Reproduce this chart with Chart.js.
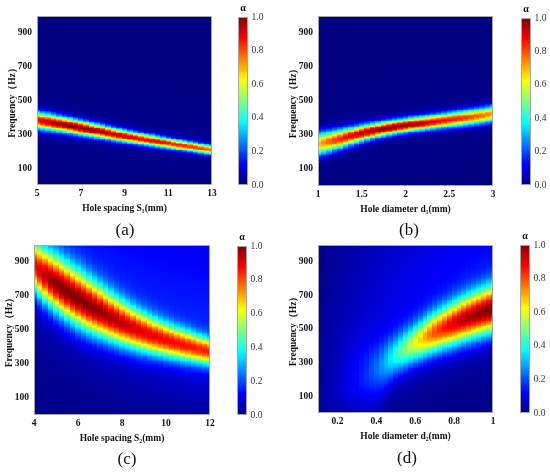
<!DOCTYPE html>
<html>
<head>
<meta charset="utf-8">
<script src="https://cdn.jsdelivr.net/npm/chart.js@4.4.1/dist/chart.umd.min.js"></script>
<style>
    html, body { margin: 0; padding: 0; background: #fff; }
    #figura { position: relative; width: 550px; height: 473px; overflow: hidden; background: #fff; }
    #figura canvas { position: absolute; }
    .etiqueta {
        position: absolute;
        font: 17px "Liberation Serif", "Times New Roman", serif;
        color: #111;
        transform: translate(-50%, -50%);
        white-space: nowrap;
    }
</style>
</head>
<body>
<div id="figura"></div>
<script>
// =========================================================================
// DATOS
// Para cada columna: frecuencia del pico, alpha maximo y ancho de banda (Hz)
// =========================================================================
const freqTicks = [100, 300, 500, 700, 900];
const colorbarTicks = [0, 0.2, 0.4, 0.6, 0.8, 1.0];

// (a) Hole spacing S1
const spacingS1 = [5, 5.25, 5.5, 5.75, 6, 6.25, 6.5, 6.75, 7, 7.25, 7.5, 7.75, 8, 8.25, 8.5, 8.75, 9,
                   9.25, 9.5, 9.75, 10, 10.25, 10.5, 10.75, 11, 11.25, 11.5, 11.75, 12, 12.25, 12.5, 12.75, 13];
const ticksS1 = [5, 7, 9, 11, 13];
const centerA = [382, 377, 372, 367, 362, 356, 350, 344, 338, 332, 326, 320, 314, 307, 301, 295, 289,
                 283, 278, 272, 267, 262, 257, 252, 247, 242, 237, 232, 227, 222, 217, 212, 208];
const peakA = [0.90, 0.92, 0.94, 0.96, 0.97, 0.98, 0.99, 1.00, 1.00, 1.00, 0.99, 0.98, 0.97, 0.955, 0.94, 0.93, 0.92,
               0.91, 0.90, 0.895, 0.89, 0.885, 0.88, 0.875, 0.87, 0.86, 0.85, 0.84, 0.83, 0.82, 0.81, 0.80, 0.79];
const widthA = [34, 33, 33, 32, 31, 30.5, 30, 29, 28.5, 28, 27, 26.5, 26, 25.5, 25, 24.5, 24,
                23.5, 23, 22.5, 22, 22, 21.5, 21, 20.5, 20, 20, 19.5, 19, 19, 18.5, 18.5, 18];
const glowA = 0.04;

// (b) Hole diameter d1
const diameterD1 = [1, 1.0625, 1.125, 1.1875, 1.25, 1.3125, 1.375, 1.4375, 1.5, 1.5625, 1.625, 1.6875, 1.75, 1.8125, 1.875, 1.9375, 2,
                    2.0625, 2.125, 2.1875, 2.25, 2.3125, 2.375, 2.4375, 2.5, 2.5625, 2.625, 2.6875, 2.75, 2.8125, 2.875, 2.9375, 3];
const ticksD1 = [1, 1.5, 2, 2.5, 3];
const centerB = [247, 254, 261, 269, 277, 286, 294, 302, 310, 317, 324, 330, 336, 342, 347, 352, 356,
                 361, 365, 369, 373, 377, 381, 385, 389, 393, 397, 401, 405, 410, 414, 419, 424];
const peakB = [0.70, 0.74, 0.78, 0.82, 0.85, 0.88, 0.90, 0.92, 0.94, 0.955, 0.97, 0.98, 0.99, 0.995, 1.00, 0.99, 0.98,
               0.965, 0.95, 0.935, 0.92, 0.905, 0.89, 0.875, 0.86, 0.845, 0.83, 0.815, 0.80, 0.785, 0.77, 0.755, 0.74];
const widthB = [46, 44, 42, 40, 38, 36, 34.5, 33, 32, 31, 30, 29, 28.5, 28, 27.5, 27, 27,
                27, 27, 27.5, 27.5, 28, 28, 28.5, 29, 29.5, 30, 30, 30.5, 31, 31, 31.5, 32];
const glowB = 0.04;

// (c) Hole spacing S2
const spacingS2 = [4, 4.25, 4.5, 4.75, 5, 5.25, 5.5, 5.75, 6, 6.25, 6.5, 6.75, 7, 7.25, 7.5, 7.75, 8,
                   8.25, 8.5, 8.75, 9, 9.25, 9.5, 9.75, 10, 10.25, 10.5, 10.75, 11, 11.25, 11.5, 11.75, 12];
const ticksS2 = [4, 6, 8, 10, 12];
const centerC = [874, 847, 822, 796, 772, 749, 727, 705, 684, 664, 645, 626, 608, 591, 574, 557, 540,
                 526, 512, 498, 485, 473, 462, 451, 440, 431, 422, 413, 405, 396, 388, 380, 372];
const peakC = [0.88, 0.91, 0.94, 0.97, 0.99, 1.00, 1.00, 1.00, 1.00, 1.00, 1.00, 0.99, 0.98, 0.97, 0.96, 0.95, 0.94,
               0.93, 0.92, 0.91, 0.90, 0.90, 0.89, 0.89, 0.88, 0.88, 0.87, 0.87, 0.86, 0.86, 0.85, 0.85, 0.84];
const widthC = [100, 103, 106, 108, 110, 110, 110, 110, 110, 108, 105, 103, 100, 97, 94, 91, 88,
                85, 82, 80, 77, 74, 72, 69, 67, 65, 63, 62, 60, 58, 56, 55, 53];
const glowC = 0.16;

// (d) Hole diameter d2
const diameterD2 = [0.1, 0.125, 0.15, 0.175, 0.2, 0.225, 0.25, 0.275, 0.3, 0.325, 0.35, 0.375, 0.4, 0.425, 0.45, 0.475, 0.5, 0.525, 0.55,
                    0.575, 0.6, 0.625, 0.65, 0.675, 0.7, 0.725, 0.75, 0.775, 0.8, 0.825, 0.85, 0.875, 0.9, 0.925, 0.95, 0.975, 1.0];
const ticksD2 = [0.2, 0.4, 0.6, 0.8, 1];
const centerD = [100, 108, 118, 128, 140, 152, 165, 180, 195, 212, 230, 249, 268, 287, 306, 326, 345, 364, 382,
                 400, 418, 434, 450, 465, 480, 494, 507, 520, 533, 545, 556, 568, 579, 590, 601, 611, 622];
const peakD = [0.03, 0.035, 0.045, 0.055, 0.07, 0.085, 0.10, 0.115, 0.13, 0.15, 0.17, 0.20, 0.23, 0.27, 0.31, 0.36, 0.41, 0.46, 0.51,
               0.56, 0.61, 0.66, 0.71, 0.76, 0.80, 0.83, 0.86, 0.89, 0.91, 0.93, 0.945, 0.96, 0.97, 0.98, 0.99, 1.00, 1.00];
const glowD = [0.02, 0.027, 0.035, 0.042, 0.05, 0.058, 0.065, 0.072, 0.08, 0.085, 0.09, 0.095, 0.10, 0.104, 0.108, 0.111, 0.115, 0.118, 0.12,
               0.122, 0.125, 0.128, 0.13, 0.132, 0.135, 0.136, 0.137, 0.138, 0.14, 0.141, 0.142, 0.144, 0.145, 0.146, 0.147, 0.148, 0.15];
const widthUpD = [220, 215, 210, 205, 200, 190, 180, 170, 160, 145, 130, 115, 100, 94, 88, 84, 80, 79, 79,
                  78, 78, 79, 80, 81, 82, 83, 85, 86, 88, 89, 90, 91, 92, 93, 94, 95, 95];
const widthDownD = [250, 248, 245, 243, 240, 233, 225, 218, 210, 195, 180, 165, 150, 130, 112, 97, 85, 83, 81,
                    80, 80, 81, 82, 83, 84, 85, 86, 88, 89, 90, 91, 92, 93, 94, 95, 96, 96];

// =========================================================================
// CONFIGURACION DE PANELES
// =========================================================================
const SERIF = '"Liberation Serif", "Times New Roman", serif';
const TEXT_COLOR = '#111';
const FRAME_COLOR = '#a6a6a6';
const FREQ_STEP = 5;

const paneles = [
    {
        label: '(a)', labelPos: { x: 125, y: 230 },
        xs: spacingS1, xMin: 5, xMax: 13, xTicks: ticksS1, xTitle: 'Hole spacing S\u2081(mm)',
        center: centerA, peak: peakA, wUp: widthA, wDown: widthA, glow: glowA, spreadUp: 70, spreadDown: 60,
        plot: { l: 37, t: 16, r: 212, b: 185 }, bar: { l: 238, t: 17, r: 248, b: 185 }
    },
    {
        label: '(b)', labelPos: { x: 409, y: 230 },
        xs: diameterD1, xMin: 1, xMax: 3, xTicks: ticksD1, xTitle: 'Hole diameter d\u2081(mm)',
        center: centerB, peak: peakB, wUp: widthB, wDown: widthB, glow: glowB, spreadUp: 70, spreadDown: 60,
        plot: { l: 318, t: 16, r: 493, b: 186 }, bar: { l: 521, t: 18, r: 531, b: 185 }
    },
    {
        label: '(c)', labelPos: { x: 127, y: 459 },
        xs: spacingS2, xMin: 4, xMax: 12, xTicks: ticksS2, xTitle: 'Hole spacing S\u2082(mm)',
        center: centerC, peak: peakC, wUp: widthC, wDown: widthC, glow: glowC, spreadUp: 900, spreadDown: 200,
        plot: { l: 34, t: 245, r: 210, b: 415 }, bar: { l: 237, t: 246, r: 247, b: 415 }
    },
    {
        label: '(d)', labelPos: { x: 407, y: 458 },
        xs: diameterD2, xMin: 0.1, xMax: 1, xTicks: ticksD2, xTitle: 'Hole diameter d\u2082(mm)',
        center: centerD, peak: peakD, wUp: widthUpD, wDown: widthDownD, glow: glowD, spreadUp: 900, spreadDown: 150,
        plot: { l: 318, t: 245, r: 493, b: 413 }, bar: { l: 520, t: 245, r: 530, b: 413 }
    }
];

// =========================================================================
// UTILIDADES
// =========================================================================
function clamp01(v) { return Math.min(1, Math.max(0, v)); }

// Mapa de color "jet"
function jet(v) {
    v = clamp01(v);
    const r = clamp01(1.5 - Math.abs(4 * v - 3));
    const g = clamp01(1.5 - Math.abs(4 * v - 2));
    const b = clamp01(1.5 - Math.abs(4 * v - 1));
    return `rgb(${Math.round(r * 255)},${Math.round(g * 255)},${Math.round(b * 255)})`;
}

// Absorcion en la columna i a la frecuencia f: nucleo del pico + halo ancho
function absorcion(p, i, f) {
    const d = f - p.center[i];
    const glow = Array.isArray(p.glow) ? p.glow[i] : p.glow;
    const core = p.peak[i] - glow;
    const w = d >= 0 ? p.wUp[i] : p.wDown[i];
    const W = d >= 0 ? p.spreadUp : p.spreadDown;
    return core * Math.exp(-0.5 * (d / w) * (d / w)) + glow / (1 + (d / W) * (d / W));
}

function crearCanvas(left, top, width, height) {
    const c = document.createElement('canvas');
    c.width = width;
    c.height = height;
    c.style.left = left + 'px';
    c.style.top = top + 'px';
    c.style.width = width + 'px';
    c.style.height = height + 'px';
    document.getElementById('figura').appendChild(c);
    return c;
}

const marcoPlugin = {
    id: 'marco',
    afterDraw(chart) {
        const { ctx, chartArea: a } = chart;
        ctx.save();
        ctx.strokeStyle = FRAME_COLOR;
        ctx.lineWidth = 1;
        ctx.strokeRect(a.left + 0.5, a.top + 0.5, a.width - 1, a.height - 1);
        ctx.restore();
    }
};

// Celdas del mapa: bordes ajustados a pixel entero para evitar costuras
function crearPluginCalor(p) {
    return {
        id: 'mapaCalor',
        beforeDatasetsDraw(chart) {
            const { ctx, chartArea: a, scales: { x, y } } = chart;
            const half = (p.xs[1] - p.xs[0]) / 2;
            ctx.save();
            ctx.beginPath();
            ctx.rect(a.left, a.top, a.width, a.height);
            ctx.clip();
            for (let i = 0; i < p.xs.length; i++) {
                const x0 = Math.round(x.getPixelForValue(p.xs[i] - half));
                const x1 = Math.round(x.getPixelForValue(p.xs[i] + half));
                if (x1 <= x0) continue;
                for (let f = 0; f < 1000; f += FREQ_STEP) {
                    const yTop = Math.round(y.getPixelForValue(f + FREQ_STEP));
                    const yBot = Math.round(y.getPixelForValue(f));
                    if (yBot <= yTop) continue;
                    ctx.fillStyle = jet(absorcion(p, i, f + FREQ_STEP / 2));
                    ctx.fillRect(x0, yTop, x1 - x0, yBot - yTop);
                }
            }
            ctx.restore();
        }
    };
}

const alphaPlugin = {
    id: 'alphaTitulo',
    afterDraw(chart) {
        const { ctx, chartArea: a } = chart;
        ctx.save();
        ctx.fillStyle = TEXT_COLOR;
        ctx.font = `bold 10px ${SERIF}`;
        ctx.textAlign = 'center';
        ctx.textBaseline = 'middle';
        ctx.fillText('\u03b1', (a.left + a.right) / 2, a.top - 9);
        ctx.restore();
    }
};

function gradienteJet(chart) {
    const a = chart.chartArea;
    if (!a) return null;
    const y = chart.scales.y;
    const g = chart.ctx.createLinearGradient(0, y.getPixelForValue(0), 0, y.getPixelForValue(1));
    [0, 0.125, 0.375, 0.625, 0.875, 1].forEach(s => g.addColorStop(s, jet(s)));
    return g;
}

// =========================================================================
// GRAFICOS
// =========================================================================
function crearMapa(p) {
    const Y_AXIS_W = 37, X_AXIS_H = 36, PAD_TOP = 16, PAD_RIGHT = 14;
    const width = (p.plot.r - p.plot.l) + Y_AXIS_W + PAD_RIGHT;
    const height = (p.plot.b - p.plot.t) + PAD_TOP + X_AXIS_H;
    const canvas = crearCanvas(p.plot.l - Y_AXIS_W, p.plot.t - PAD_TOP, width, height);

    const tickFont = { family: SERIF, size: 9.5, weight: 'bold' };
    const titleFont = { family: SERIF, size: 9.5, weight: 'bold' };

    return new Chart(canvas, {
        type: 'scatter',
        data: { datasets: [] },
        options: {
            responsive: false,
            animation: false,
            layout: { padding: { top: PAD_TOP, right: PAD_RIGHT, left: 0, bottom: 0 } },
            plugins: { legend: { display: false }, tooltip: { enabled: false } },
            scales: {
                x: {
                    type: 'linear', min: p.xMin, max: p.xMax,
                    grid: { display: false, drawTicks: false },
                    border: { display: false },
                    afterBuildTicks: (s) => { s.ticks = p.xTicks.map(v => ({ value: v })); },
                    afterFit: (s) => { s.height = X_AXIS_H; },
                    ticks: { font: tickFont, color: TEXT_COLOR, padding: 2.5, maxRotation: 0, autoSkip: false, callback: (v) => String(v) },
                    title: { display: true, text: p.xTitle, font: titleFont, color: TEXT_COLOR, padding: { top: 0, bottom: 6.8 } }
                },
                y: {
                    type: 'linear', min: 0, max: 1000,
                    grid: { display: false, drawTicks: false },
                    border: { display: false },
                    afterBuildTicks: (s) => { s.ticks = freqTicks.map(v => ({ value: v })); },
                    afterFit: (s) => { s.width = Y_AXIS_W; },
                    ticks: { font: tickFont, color: TEXT_COLOR, padding: 5, autoSkip: false, callback: (v) => String(v) },
                    title: { display: true, text: 'Frequency\uff08Hz\uff09', font: titleFont, color: TEXT_COLOR, padding: { top: 6.9, bottom: 0 } }
                }
            }
        },
        plugins: [crearPluginCalor(p), marcoPlugin]
    });
}

function crearBarraColor(p) {
    const PAD_LEFT = 4, PAD_TOP = 16, PAD_BOTTOM = 12, AXIS_W = 24;
    const width = (p.bar.r - p.bar.l) + PAD_LEFT + AXIS_W;
    const height = (p.bar.b - p.bar.t) + PAD_TOP + PAD_BOTTOM;
    const canvas = crearCanvas(p.bar.l - PAD_LEFT, p.bar.t - PAD_TOP, width, height);

    return new Chart(canvas, {
        type: 'bar',
        data: {
            labels: ['\u03b1'],
            datasets: [{
                data: [[0, 1]],
                backgroundColor: (ctx) => gradienteJet(ctx.chart),
                borderWidth: 0,
                categoryPercentage: 1,
                barPercentage: 1
            }]
        },
        options: {
            responsive: false,
            animation: false,
            layout: { padding: { top: PAD_TOP, right: 0, left: PAD_LEFT, bottom: PAD_BOTTOM } },
            plugins: { legend: { display: false }, tooltip: { enabled: false } },
            scales: {
                x: { display: false },
                y: {
                    position: 'right', min: 0, max: 1,
                    grid: { display: false, drawTicks: false },
                    border: { display: false },
                    afterBuildTicks: (s) => { s.ticks = colorbarTicks.map(v => ({ value: v })); },
                    afterFit: (s) => { s.width = AXIS_W; },
                    ticks: { font: { family: SERIF, size: 9.5 }, color: '#333', padding: 3.5, autoSkip: false, callback: (v) => v.toFixed(1) }
                }
            }
        },
        plugins: [marcoPlugin, alphaPlugin]
    });
}

function crearEtiqueta(p) {
    const el = document.createElement('div');
    el.className = 'etiqueta';
    el.textContent = p.label;
    el.style.left = p.labelPos.x + 'px';
    el.style.top = p.labelPos.y + 'px';
    document.getElementById('figura').appendChild(el);
}

paneles.forEach(p => {
    crearMapa(p);
    crearBarraColor(p);
    crearEtiqueta(p);
});
</script>
</body>
</html>
